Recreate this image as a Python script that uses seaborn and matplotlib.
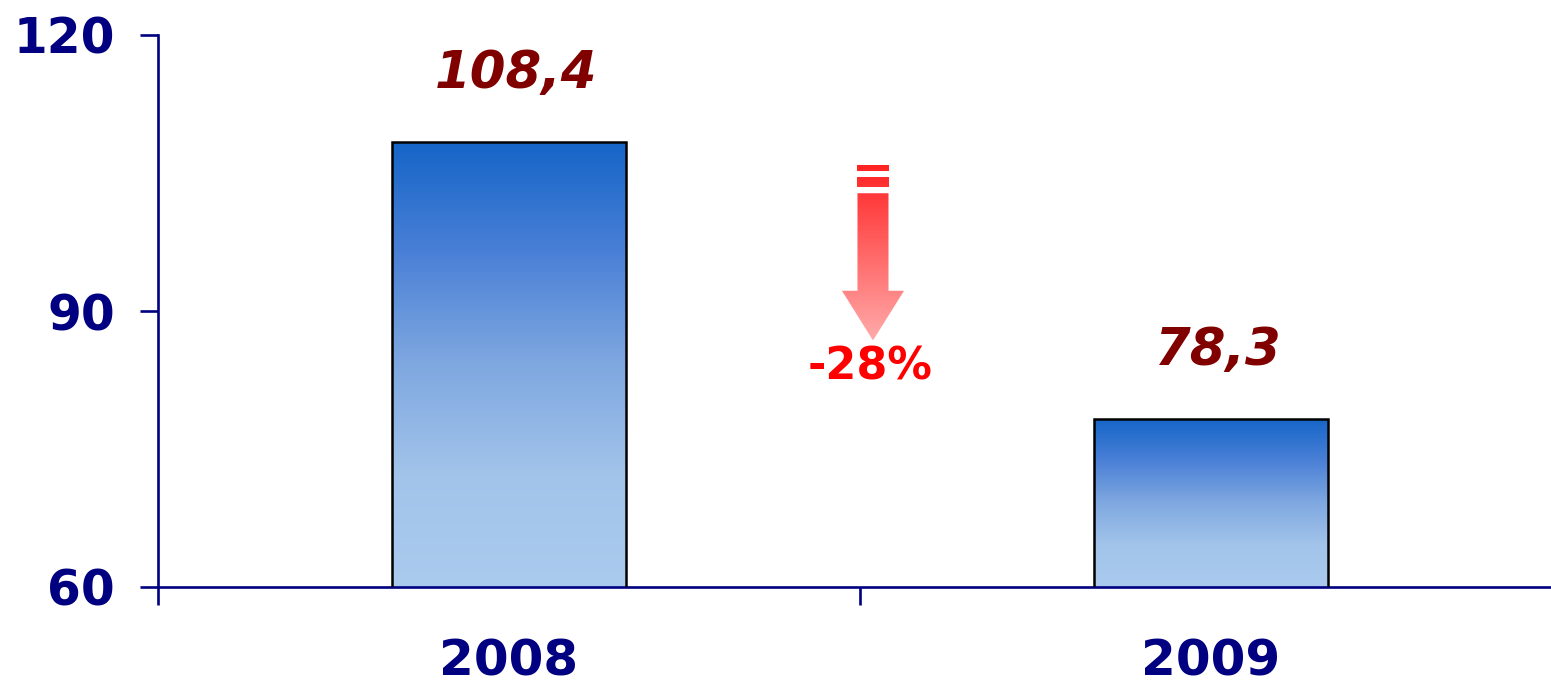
import numpy as np
import pandas as pd
import seaborn as sns
import matplotlib.pyplot as plt
from matplotlib.patches import Polygon
from matplotlib.colors import LinearSegmentedColormap

# Données
annees = ["2008", "2009"]
valeurs = [108.4, 78.3]
etiquettes = ["108,4", "78,3"]
variation = "-28%"

df = pd.DataFrame({"annee": annees, "valeur": valeurs})

navy = "#000080"
sns.set_style("white")
plt.rcParams["font.family"] = ["DejaVu Sans"]

fig = plt.figure(figsize=(15.51, 6.84), dpi=100)
ax = fig.add_axes([158 / 1551, 97 / 684, 1404 / 1551, 552 / 684])

sns.barplot(data=df, x="annee", y="valeur", width=0.333, color="white",
            edgecolor="black", linewidth=1.8, ax=ax)
ax.set_ylim(60, 120)
ax.set_xlim(-0.5, 1.5)

# Dégradé bleu dans les barres
cmap_bleu = LinearSegmentedColormap.from_list(
    "bleu", ["#1565C8", "#4A80D6", "#7FA8E0", "#A2C4EA", "#AACBEE"])
grad = np.linspace(0, 1, 256).reshape(-1, 1)
for p in ax.patches:
    x0, w, h = p.get_x(), p.get_width(), p.get_height()
    im = ax.imshow(grad, cmap=cmap_bleu, aspect="auto", origin="upper",
                   extent=(x0, x0 + w, 60, h), zorder=2)
    im.set_clip_path(p)
    p.set_facecolor("none")
    p.set_zorder(3)

# Étiquettes de valeurs (légèrement décalées à droite, comme l'italique d'origine)
labels = ax.bar_label(ax.containers[0], labels=etiquettes, padding=31,
                      fontsize=37, fontweight="bold", fontstyle="italic",
                      color="#800000")
for t in labels:
    t.xyann = (5, t.xyann[1])

# Flèche de variation
xc, hs, hh = 0.5185, 0.0221, 0.0442
cmap_rouge = LinearSegmentedColormap.from_list("rouge", ["#FF2222", "#FFAAAA"])
y_top, y_tip = 105.9, 86.8
formes = [
    [(xc - hs, 105.9), (xc + hs, 105.9), (xc + hs, 105.2), (xc - hs, 105.2)],
    [(xc - hs, 104.6), (xc + hs, 104.6), (xc + hs, 103.5), (xc - hs, 103.5)],
    [(xc - hs, 102.8), (xc + hs, 102.8), (xc + hs, 92.2), (xc + hh, 92.2),
     (xc, y_tip), (xc - hh, 92.2), (xc - hs, 92.2)],
]
for pts in formes:
    poly = Polygon(pts, closed=True, facecolor="none", edgecolor="none")
    ax.add_patch(poly)
    im = ax.imshow(grad, cmap=cmap_rouge, aspect="auto", origin="upper",
                   extent=(xc - hh, xc + hh, y_tip, y_top), zorder=2)
    im.set_clip_path(poly)
ax.text(0.514, 83.9, variation, ha="center", va="center", fontsize=32,
        fontweight="bold", color="red")

# Axes
sns.despine(ax=ax)
for s in ["left", "bottom"]:
    ax.spines[s].set_color(navy)
    ax.spines[s].set_linewidth(1.9)
ax.set_yticks([60, 90, 120])
ax.tick_params(axis="y", left=True, length=13, width=1.9, color=navy,
               labelsize=35, labelcolor=navy, pad=18)
ax.set_xticks([-0.5, 0.5, 1.5], minor=True)
ax.tick_params(axis="x", which="minor", bottom=True, length=13, width=1.9,
               color=navy, direction="out")
ax.tick_params(axis="x", which="major", bottom=True, length=0, labelsize=36,
               labelcolor=navy, pad=36)
for lab in ax.get_xticklabels() + ax.get_yticklabels():
    lab.set_fontweight("bold")
ax.set_xlabel("")
ax.set_ylabel("")

plt.savefig("out.png", dpi=100)
